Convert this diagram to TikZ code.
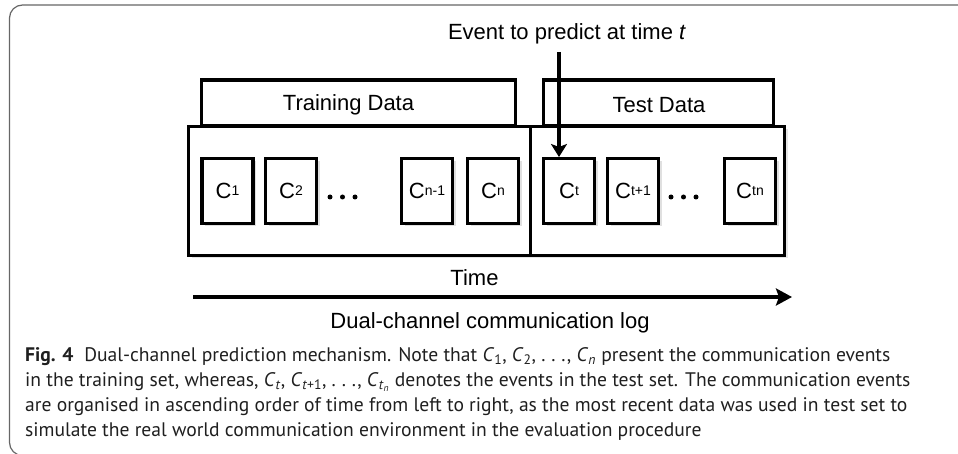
\documentclass[tikz,border=0pt]{standalone}
\usepackage{fontspec}
\setmainfont{Liberation Sans}
\newfontfamily\capfont{PT Sans}
\usetikzlibrary{arrows.meta,shadows}

% event symbols: C with raised index, italic C with subscript in the caption
\newcommand{\ev}[1]{C\raisebox{3.5pt}{\fontsize{14}{14}\selectfont #1}}
\newcommand{\ci}[1]{\textit{C}\textsubscript{#1}}
\newcommand{\spdots}{{.}\hspace{0.3em}{.}\hspace{0.3em}{.}}

\tikzset{
  thk/.style={line width=3.5pt},
  evbox/.style={thk, draw, fill=white, minimum width=51pt, minimum height=65pt,
    inner sep=0pt, font=\fontsize{22}{22}\selectfont,
    drop shadow={shadow xshift=3pt, shadow yshift=-3pt, fill=black!12, opacity=1}},
  panel/.style={thk, draw, fill=white, inner sep=0pt,
    drop shadow={shadow xshift=3pt, shadow yshift=-3pt, fill=black!10, opacity=1}},
  tabbox/.style={thk, draw, fill=white, inner sep=0pt, minimum height=46pt},
  lbl/.style={font=\fontsize{22}{22}\selectfont, inner sep=0pt},
  captxt/.style={anchor=base west, inner sep=0pt, text=black!88,
    font=\capfont\fontsize{19.6}{22}\selectfont},
  evdot/.style={fill, circle, inner sep=0pt, minimum size=5pt},
}

\begin{document}
\begin{tikzpicture}[x=1pt, y=-1pt, line join=miter]
\useasboundingbox (0,0) rectangle (958,454);

% frame
\draw[black!60, line width=1.2pt, rounded corners=13pt]
  (960,5) -- (9.5,5) -- (9.5,455.5) -- (960,455.5);

% tabs
\node[tabbox, minimum width=314pt] (tabtrain) at (358.5,103) {};
\node[tabbox, minimum width=230pt] (tabtest) at (658.5,103) {};
\node[lbl] (traintxt) at (348.5,105) {Training Data};
\node[lbl] (testtxt) at (659,105) {Test Data};

% panels
\node[panel, minimum width=342pt, minimum height=129pt] (train) at (359.5,191) {};
\node[panel, minimum width=254pt, minimum height=129pt] (test) at (657.5,191) {};

% events
\node[evbox] (c1) at (227.5,191) {\ev{1}};
\node[evbox] (c2) at (291,191) {\ev{2}};
\node[evbox] (cn1) at (427,191) {\ev{n-1}};
\node[evbox] (cn) at (493,191) {\ev{n}};
\node[evbox] (ct) at (569,191) {\ev{t}};
\node[evbox] (ct1) at (633,191) {\ev{t+1}};
\node[evbox] (ctn) at (750,191) {\ev{tn}};

\node[evdot] (d1) at (330,197) {};
\node[evdot] (d2) at (342.5,197) {};
\node[evdot] (d3) at (355,197) {};
\node[evdot] (d4) at (671,197) {};
\node[evdot] (d5) at (683.5,197) {};
\node[evdot] (d6) at (696,197) {};

% event to predict
\node[lbl, anchor=base] (evt) at (567,40) {Event to predict at time \textit{t}};
\coordinate (hit) at (559,157);
\draw[thk, -{Stealth[length=13pt, width=16pt, inset=3pt]}] (hit |- 52,52) -- (hit);

% time axis
\node[lbl] (time) at (474.5,278) {Time};
\coordinate (t0) at (193,297);
\coordinate (t1) at (792,297);
\draw[thk, -{Stealth[length=16pt, width=17pt, inset=3pt]}] (t0) -- (t1);
\node[lbl, anchor=base] (log) at (490,328) {Dual-channel communication log};

% caption
\node[captxt] (cap1) at (25,361) {\textbf{Fig. 4}\hspace{0.55em}Dual-channel prediction mechanism. Note that \ci{1}, \ci{2}, \spdots, \ci{\textit{n}} present the communication events};
\node[captxt] (cap2) at (25,386.3) {in the training set, whereas, \ci{\textit{t}}, \ci{\textit{t}+1}, \spdots, \ci{\textit{t}\textsubscript{\textit{n}}} denotes the events in the test set. The communication events};
\node[captxt] (cap3) at (25,411.6) {are organised in ascending order of time from left to right, as the most recent data was used in test set to};
\node[captxt] (cap4) at (25,436.9) {simulate the real world communication environment in the evaluation procedure};
\end{tikzpicture}
\end{document}
